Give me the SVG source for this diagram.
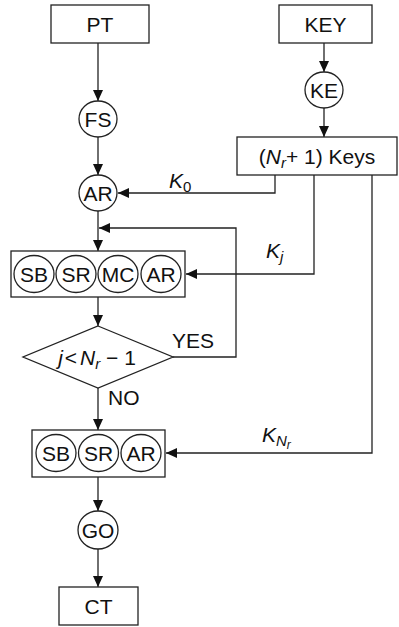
<svg xmlns="http://www.w3.org/2000/svg" width="399" height="627" viewBox="0 0 399 627">
<style>
text{font-family:"Liberation Sans",Arial,sans-serif;font-size:21px;fill:#111}
.c{text-anchor:middle}
.it{font-style:italic}
.sh{fill:none;stroke:#222;stroke-width:1.3}
.ln{fill:none;stroke:#222;stroke-width:1.3}
</style>
<defs>
<marker id="ah" markerUnits="userSpaceOnUse" markerWidth="12" markerHeight="12" viewBox="0 0 12 12" refX="11" refY="6" orient="auto">
<path d="M0,1 L11,6 L0,11 Z" fill="#111"/>
</marker>
</defs>
<rect width="399" height="627" fill="#fff"/>
<g id="connectors">
<path class="ln" d="M98,43 V101" marker-end="url(#ah)"/>
<path class="ln" d="M98,137 V175" marker-end="url(#ah)"/>
<path class="ln" d="M324,43 V72" marker-end="url(#ah)"/>
<path class="ln" d="M324,108 V137" marker-end="url(#ah)"/>
<path class="ln" d="M275,175 V193 H118" marker-end="url(#ah)"/>
<path class="ln" d="M98,211 V251" marker-end="url(#ah)"/>
<path class="ln" d="M314,175 V274 H186" marker-end="url(#ah)"/>
<path class="ln" d="M98,297 V326" marker-end="url(#ah)"/>
<path class="ln" d="M173,357 H236 V228 H99" marker-end="url(#ah)"/>
<path class="ln" d="M98,388 V430" marker-end="url(#ah)"/>
<path class="ln" d="M372,175 V453 H166" marker-end="url(#ah)"/>
<path class="ln" d="M98,477 V511" marker-end="url(#ah)"/>
<path class="ln" d="M98,549 V587" marker-end="url(#ah)"/>
</g>
<g id="labels">
<text x="169" y="188"><tspan class="it">K</tspan><tspan font-size="15" dy="4">0</tspan></text>
<text x="266" y="258"><tspan class="it">K</tspan><tspan class="it" font-size="15" dy="4">j</tspan></text>
<text x="262" y="442"><tspan class="it">K</tspan><tspan class="it" font-size="15" dy="4">N</tspan><tspan class="it" font-size="12" dy="3">r</tspan></text>
<text x="172" y="348">YES</text>
<text x="108" y="405">NO</text>
</g>
<g id="PT"><rect class="sh" x="51" y="5" width="98" height="38"/><text class="c" x="100" y="31.5">PT</text></g>
<g id="KEY"><rect class="sh" x="279" y="5" width="93" height="38"/><text class="c" x="325.5" y="31.5">KEY</text></g>
<g id="FS"><ellipse class="sh" cx="98" cy="119" rx="19" ry="18"/><text class="c" x="98" y="126.5">FS</text></g>
<g id="KE"><ellipse class="sh" cx="324" cy="90" rx="19" ry="18"/><text class="c" x="324" y="97.5">KE</text></g>
<g id="Keys"><rect class="sh" x="237" y="137" width="160" height="38"/><text class="c" x="317" y="163.5">(<tspan class="it">N</tspan><tspan class="it" font-size="15" dy="4">r</tspan><tspan dy="-4">+ 1) Keys</tspan></text></g>
<g id="AR0"><ellipse class="sh" cx="98" cy="193" rx="19" ry="18"/><text class="c" x="98" y="200.5">AR</text></g>
<g id="round">
<rect class="sh" x="11" y="251" width="174" height="46"/>
<ellipse class="sh" cx="34" cy="274" rx="20" ry="18.5"/><text class="c" x="34" y="281.5">SB</text>
<ellipse class="sh" cx="76" cy="274" rx="20" ry="18.5"/><text class="c" x="76" y="281.5">SR</text>
<ellipse class="sh" cx="118" cy="274" rx="20" ry="18.5"/><text class="c" x="118" y="281.5">MC</text>
<ellipse class="sh" cx="161" cy="274" rx="20" ry="18.5"/><text class="c" x="161" y="281.5">AR</text>
</g>
<g id="decision">
<path class="sh" d="M98,326 L173,357 L98,388 L23,357 Z"/>
<text class="c" x="97" y="365"><tspan class="it">j</tspan><tspan dx="2">&lt;</tspan><tspan class="it" dx="3">N</tspan><tspan class="it" font-size="15" dy="4">r</tspan><tspan dy="-4"> − 1</tspan></text>
</g>
<g id="final">
<rect class="sh" x="32" y="430" width="133" height="47"/>
<ellipse class="sh" cx="56" cy="453" rx="20" ry="18.5"/><text class="c" x="56" y="460.5">SB</text>
<ellipse class="sh" cx="98.5" cy="453" rx="20" ry="18.5"/><text class="c" x="98.5" y="460.5">SR</text>
<ellipse class="sh" cx="141" cy="453" rx="20" ry="18.5"/><text class="c" x="141" y="460.5">AR</text>
</g>
<g id="GO"><ellipse class="sh" cx="98" cy="530" rx="20" ry="19"/><text class="c" x="98" y="537.5">GO</text></g>
<g id="CT"><rect class="sh" x="59" y="587" width="79" height="38"/><text class="c" x="98.5" y="613.5">CT</text></g>
</svg>
